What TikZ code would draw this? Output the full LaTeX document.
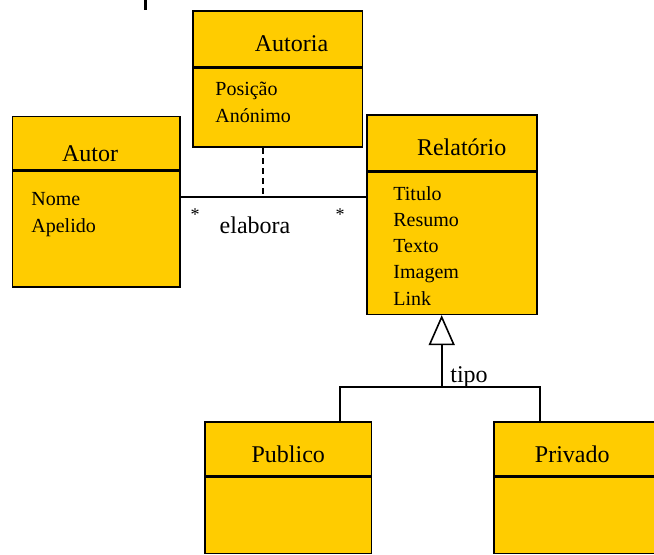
\documentclass[tikz,border=0pt]{standalone}
\usepackage{fontspec}
\setmainfont{Liberation Serif}
\usetikzlibrary{positioning, arrows.meta}
\definecolor{umlyellow}{RGB}{255,204,0}

\begin{document}
\begin{tikzpicture}[x=0.5pt, y=-0.5pt,
		classhead/.style={draw, fill=umlyellow, line width=0.8pt, inner sep=0pt},
		classname/.style={font=\fontsize{12}{14}\selectfont, inner sep=0pt},
		attr/.style={font=\fontsize{10}{13.1}\selectfont, align=left, inner sep=0pt, anchor=base west},
		lbl/.style={font=\fontsize{12}{14}\selectfont, inner sep=0pt},
		mult/.style={font=\fontsize{9}{11}\selectfont, inner sep=0pt},
		conn/.style={line width=0.8pt}]
		\useasboundingbox (0,0) rectangle (654,554);
		
		% classes (attribute nodes sit on the baseline of their last line)
		\node[classhead, minimum width=84.85pt, minimum height=27.85pt] (autoria) at (277.8,38.8) {};
		\node[classhead, minimum width=84.85pt, minimum height=39.5pt, below=0pt of autoria] (autoriab) {};
		\node[classname] (autoriat) at (291.5,44) {Autoria};
		\node[attr] (autoriaa) at (215,122) {Posição\\Anónimo};
		
		\node[classhead, minimum width=83.65pt, minimum height=26.65pt] (autor) at (96.3,143.3) {};
		\node[classhead, minimum width=83.65pt, minimum height=57.85pt, below=0pt of autor] (autorb) {};
		\node[classname] (autort) at (90,154) {Autor};
		\node[attr] (autora) at (31,232) {Nome\\Apelido};
		
		\node[classhead, minimum width=85pt, minimum height=28pt] (rel) at (452,143) {};
		\node[classhead, minimum width=85pt, minimum height=70.85pt, below=0pt of rel] (relb) {};
		\node[classname] (relt) at (461.7,147.5) {Relatório};
		\node[attr] (rela) at (393,305) {Titulo\\Resumo\\Texto\\Imagem\\Link};
		
		\node[classhead, minimum width=83.35pt, minimum height=27pt] (pub) at (288.3,448.7) {};
		\node[classhead, minimum width=83.35pt, minimum height=38.15pt, below=0pt of pub] (pubb) {};
		\node[classname] (pubt) at (288.3,454) {Publico};
		
		\node[classhead, minimum width=83.5pt, minimum height=27pt] (priv) at (577.5,448.7) {};
		\node[classhead, minimum width=83.5pt, minimum height=38.15pt, below=0pt of priv] (privb) {};
		\node[classname] (privt) at (572.3,454) {Privado};
		
		% association
		\coordinate (assoc) at (263,196.7);
		\draw[conn] (autorb.east |- assoc) -- (relb.west |- assoc);
		\draw[conn, dash pattern=on 3pt off 2pt] (autoriab.south -| assoc) -- (assoc);
		\node[mult] (multa) at (195,215) {*};
		\node[mult] (multb) at (340,215) {*};
		\node[lbl] (elabora) at (255,225) {elabora};
		
		% generalization
		\coordinate (tipo) at (441.7,387);
		\coordinate (pubj) at (340,387);
		\coordinate (privj) at (540,387);
		\draw[conn, -{Triangle[open, length=15pt, width=13pt]}] (tipo) -- (relb.south -| tipo);
		\draw[conn] (pub.north -| pubj) -- (pubj) -- (privj) -- (priv.north -| privj);
		\node[lbl] (tipol) at (469,376.6) {tipo};
		
		\draw[line width=1.5pt] (145,0) -- (145,10);
		
\end{tikzpicture}
\end{document}
